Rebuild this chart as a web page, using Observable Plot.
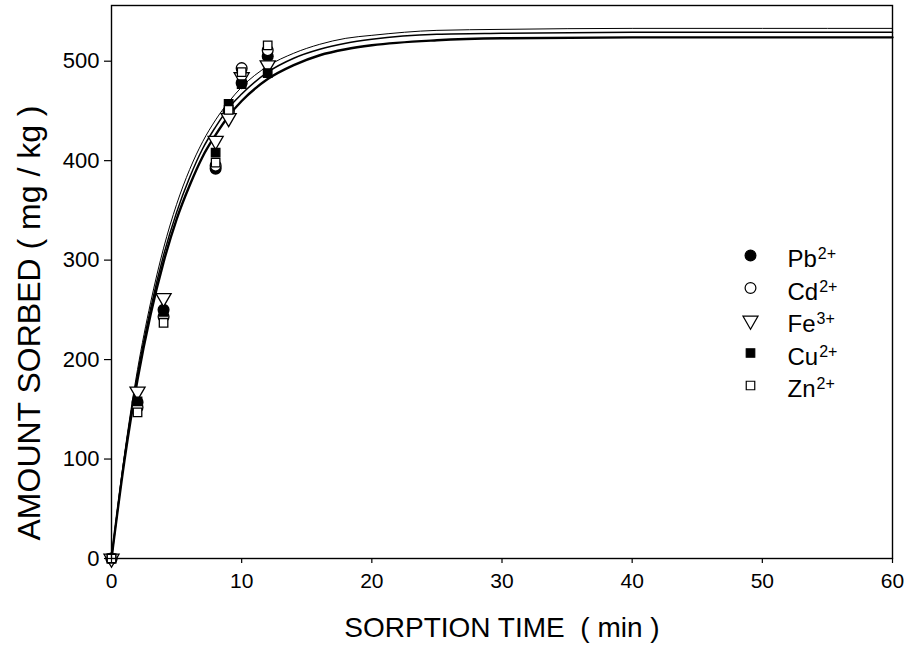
<!DOCTYPE html>
<html>
<head>
<meta charset="utf-8">
<script src="https://cdn.jsdelivr.net/npm/d3@7"></script>
<script src="https://cdn.jsdelivr.net/npm/@observablehq/plot@0.6"></script>
<style>
  html, body { margin: 0; padding: 0; background: #fff; }
  #chart { position: relative; width: 911px; height: 657px; }
</style>
</head>
<body>
<div id="chart"></div>
<script>
// ---- data ----
const times = [0, 2, 4, 8, 9, 10, 12];
const pb = [0, 157, 250, 392, 450, 478, 505];
const cd = [0, 152, 243, 395, 449, 493, 511];
const fe = [0, 168, 262, 420, 443, 484, 496];
const cu = [0, 158, 248, 408, 457, 477, 488];
const zn = [0, 147, 237, 398, 451, 489, 516];

const curveT = [0, 1, 2, 3, 4, 5, 6, 7, 8, 9, 10, 12, 14, 16, 18, 20, 25, 30, 40, 50, 60];
const curveUpper  = [0, 105, 190, 257, 312, 356, 391, 419, 441, 459, 474, 495, 508, 517, 523, 526, 531, 532, 533, 533, 533];
const curveMiddle = [0, 102, 185, 251, 305, 348, 383, 412, 434, 453, 467, 489, 503, 512, 518, 522, 527, 528, 529, 529, 529];
const curveLower  = [0,  99, 180, 245, 298, 341, 375, 404, 426, 445, 460, 482, 496, 506, 512, 516, 521, 523, 524, 524, 524];

const xTicks = [0, 10, 20, 30, 40, 50, 60];
const yTicks = [0, 100, 200, 300, 400, 500];

const seriesNames = ["Pb", "Cd", "Fe", "Cu", "Zn"];
const seriesSup = ["2+", "2+", "3+", "2+", "2+"];
const seriesValues = [pb, cd, fe, cu, zn];

// ---- styles per series ----
const styles = {
  Pb: {symbol: "circle", fill: "black", stroke: "black", r: 5.4, rotate: 0},
  Cd: {symbol: "circle", fill: "white", stroke: "black", r: 5.4, rotate: 0},
  Fe: {symbol: "triangle", fill: "white", stroke: "black", r: 5.6, rotate: 180},
  Cu: {symbol: "square", fill: "black", stroke: "black", r: 4.8, rotate: 0},
  Zn: {symbol: "square", fill: "white", stroke: "black", r: 4.8, rotate: 0}
};

const points = seriesNames.flatMap((name, i) =>
  times.map((t, j) => ({series: name, t, v: seriesValues[i][j]})));

const curves = [
  {vals: curveUpper, w: 1.0},
  {vals: curveMiddle, w: 1.5},
  {vals: curveLower, w: 2.4}
];

const FONT = "Liberation Sans, Arial, sans-serif";
const marks = [];
curves.forEach(c => {
  marks.push(Plot.line(curveT.map((t, i) => ({t, v: c.vals[i]})), {
    x: "t", y: "v", curve: "monotone-x", stroke: "black", strokeWidth: c.w
  }));
});
seriesNames.forEach(name => {
  const s = styles[name];
  marks.push(Plot.dot(points.filter(d => d.series === name), {
    x: "t", y: "v", symbol: s.symbol, fill: s.fill, stroke: s.stroke,
    r: s.r, rotate: s.rotate, strokeWidth: 1.3
  }));
});
marks.push(Plot.frame({stroke: "black", strokeWidth: 1.4}));
marks.push(Plot.axisY(yTicks, {
  tickSize: 7, tickPadding: 5, fontSize: 22, fontFamily: FONT,
  label: null, strokeWidth: 1.2
}));
marks.push(Plot.axisX(xTicks, {
  tickSize: 5, tickPadding: 10, fontSize: 21, fontFamily: FONT,
  label: null, strokeWidth: 1.2
}));
marks.push(Plot.text(["AMOUNT SORBED ( mg / kg )"], {
  frameAnchor: "bottom-left", dx: -82, dy: -18, rotate: -90, textAnchor: "start", lineAnchor: "middle",
  fontSize: 32, fontFamily: FONT, fill: "black"
}));
marks.push(Plot.text(["SORPTION TIME  ( min )"], {
  frameAnchor: "bottom", dy: 70, textAnchor: "middle", lineAnchor: "middle",
  fontSize: 28, fontFamily: FONT, fill: "black"
}));
// legend
seriesNames.forEach((name, i) => {
  const s = styles[name];
  marks.push(Plot.dot([0], {
    frameAnchor: "top-left", dx: 639, dy: 250 + i * 32.5,
    symbol: s.symbol, fill: s.fill, stroke: s.stroke, r: s.r, rotate: s.rotate, strokeWidth: 1.2
  }));
  marks.push(Plot.text([name], {
    frameAnchor: "top-left", dx: 676, dy: 254 + i * 32.5, textAnchor: "start", lineAnchor: "middle",
    fontSize: 24, fontFamily: FONT, fill: "black"
  }));
});

const chart = Plot.plot({
  width: 911,
  height: 657,
  marginTop: 5,
  marginLeft: 111,
  marginRight: 19,
  marginBottom: 99,
  style: {background: "white", color: "black", fontFamily: FONT},
  x: {domain: [0, 60], axis: null},
  y: {domain: [0, 556], axis: null},
  marks
});

// superscripts for legend labels
chart.querySelectorAll("text").forEach(t => {
  const base = t.textContent.trim();
  const i = seriesNames.indexOf(base);
  if (i < 0) return;
  const sup = document.createElementNS("http://www.w3.org/2000/svg", "tspan");
  sup.setAttribute("dy", "-0.5em");
  sup.setAttribute("dx", "1");
  sup.setAttribute("font-size", "16");
  sup.textContent = seriesSup[i];
  t.appendChild(sup);
});

document.getElementById("chart").appendChild(chart);
</script>
</body>
</html>
